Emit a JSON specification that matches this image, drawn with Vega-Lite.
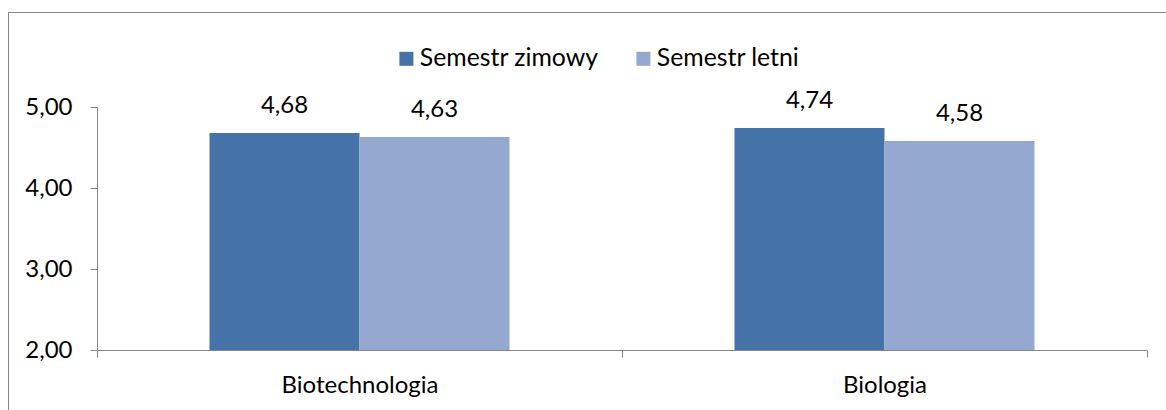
{
  "$schema": "https://vega.github.io/schema/vega-lite/v6.json",
  "autosize": "none",
  "width": 1158,
  "height": 398,
  "padding": {"left": 8, "top": 12, "right": 0, "bottom": 0},
  "background": "white",
  "data": {
    "values": [
      {"kierunek": "Biotechnologia", "semestr": "Semestr zimowy", "ocena": 4.68},
      {"kierunek": "Biotechnologia", "semestr": "Semestr letni", "ocena": 4.63},
      {"kierunek": "Biologia", "semestr": "Semestr zimowy", "ocena": 4.74},
      {"kierunek": "Biologia", "semestr": "Semestr letni", "ocena": 4.58}
    ]
  },
  "encoding": {
    "x": {
      "field": "kierunek", "type": "nominal", "sort": null,
      "scale": {"range": [89, 1139], "paddingInner": 0, "paddingOuter": 0},
      "axis": {
        "title": null, "labelAngle": 0, "offset": -60, "tickBand": "extent",
        "tickSize": 7, "labelPadding": 35, "labelBaseline": "alphabetic",
        "domainColor": "#868686", "tickColor": "#868686", "labelColor": "#000000",
        "labelFont": "Lato", "labelFontSize": 24, "grid": false
      }
    },
    "xOffset": {
      "field": "semestr", "type": "nominal", "sort": ["Semestr zimowy", "Semestr letni"],
      "scale": {"paddingInner": 0, "paddingOuter": 0.75}
    },
    "y": {
      "field": "ocena", "type": "quantitative",
      "scale": {"domain": [2, 5], "range": [338, 95], "zero": false, "nice": false},
      "axis": {
        "title": null, "values": [2, 3, 4, 5], "format": ".2f", "offset": -89,
        "tickSize": 7, "labelPadding": 18, "grid": false,
        "domainColor": "#868686", "tickColor": "#868686", "labelColor": "#000000",
        "labelFont": "Lato", "labelFontSize": 24
      }
    }
  },
  "layer": [
    {
      "mark": {"type": "bar", "stroke": null},
      "encoding": {
        "y2": {"datum": 2},
        "color": {
          "field": "semestr", "type": "nominal",
          "scale": {"domain": ["Semestr zimowy", "Semestr letni"], "range": ["#4572a7", "#95a9d0"]},
          "legend": {
            "title": null, "orient": "none", "legendX": 386, "legendY": 34,
            "direction": "horizontal", "padding": 0,
            "symbolType": "square", "symbolSize": 196, "symbolStrokeWidth": 0, "symbolOpacity": 1,
            "labelOffset": 1, "columnPadding": 32,
            "labelFont": "Lato", "labelFontSize": 24.8, "labelColor": "#000000", "labelLimit": 400
          }
        }
      }
    },
    {
      "mark": {"type": "text", "baseline": "alphabetic", "dy": -20, "font": "Lato", "fontSize": 24, "color": "#000000"},
      "encoding": {
        "text": {"field": "ocena", "type": "quantitative", "format": ".2f"}
      }
    }
  ],
  "config": {
    "view": {"stroke": "#868686", "strokeWidth": 1, "strokeDash": [1556, 1556], "strokeDashOffset": 398},
    "locale": {
      "number": {"decimal": ",", "thousands": " ", "grouping": [3], "currency": ["", " zł"]}
    }
  }
}
